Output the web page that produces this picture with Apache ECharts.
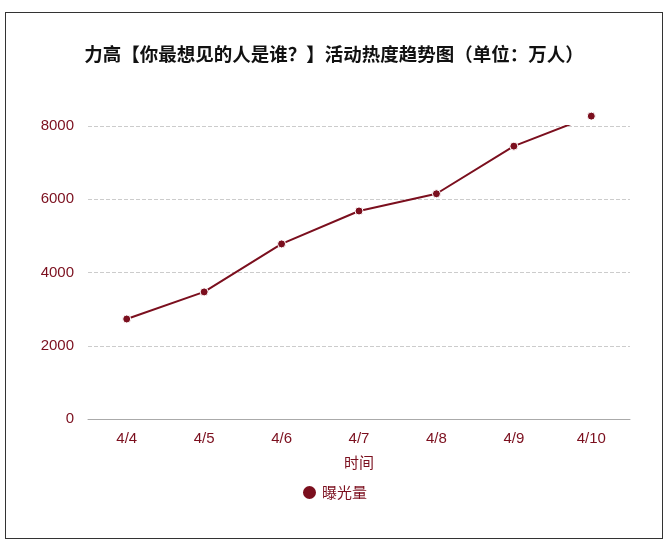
<!DOCTYPE html>
<html><head><meta charset="utf-8">
<script src="https://cdn.jsdelivr.net/npm/echarts@6/dist/echarts.min.js"></script>
<style>html,body{margin:0;padding:0;background:#fff}
#box{position:absolute;left:5px;top:12px;width:658px;height:527px;border:1px solid #333;box-sizing:border-box}
#c{width:656px;height:525px}</style></head>
<body><div id="box"><div id="c"></div></div>
<script>
const categories = ['4/4','4/5','4/6','4/7','4/8','4/9','4/10'];
const exposure = [2730, 3470, 4780, 5680, 6150, 7450, 8270];
const seriesName = '曝光量';
const c = echarts.init(document.getElementById('c'));
const red = '#7b0f1e';
c.setOption({
  title:{text:'力高【你最想见的人是谁？】活动热度趋势图（单位：万人）',left:'center',top:27,
    textStyle:{fontSize:18.5,fontWeight:'bold',color:'#111',fontFamily:'Noto Sans CJK SC'}},
  grid:{left:82,right:32,top:113,bottom:119},
  legend:{bottom:32,left:'center',icon:'circle',itemWidth:15,itemHeight:15,
    textStyle:{color:red,fontSize:15,fontFamily:'Noto Sans CJK SC'},data:[seriesName]},
  xAxis:{type:'category',data:categories,boundaryGap:true,name:'时间',nameLocation:'middle',nameGap:36,
    nameTextStyle:{color:red,fontSize:15,fontFamily:'Noto Sans CJK SC'},
    axisLine:{lineStyle:{color:'#aaa'}},axisTick:{alignWithLabel:true,lineStyle:{color:'#aaa'}},
    axisLabel:{color:red,fontSize:15,margin:12}},
  yAxis:{type:'value',min:0,max:8000,interval:2000,
    axisLine:{show:false},axisTick:{show:false},
    axisLabel:{color:red,fontSize:15,margin:14,formatter:v=>String(v)},
    splitLine:{lineStyle:{type:'dashed',color:'#ccc'}}},
  series:[{name:seriesName,type:'line',data:exposure,symbol:'circle',symbolSize:8,clip:false,
    lineStyle:{color:red,width:2},itemStyle:{color:red,borderColor:'#fff',borderWidth:1}}]
});
</script></body></html>
